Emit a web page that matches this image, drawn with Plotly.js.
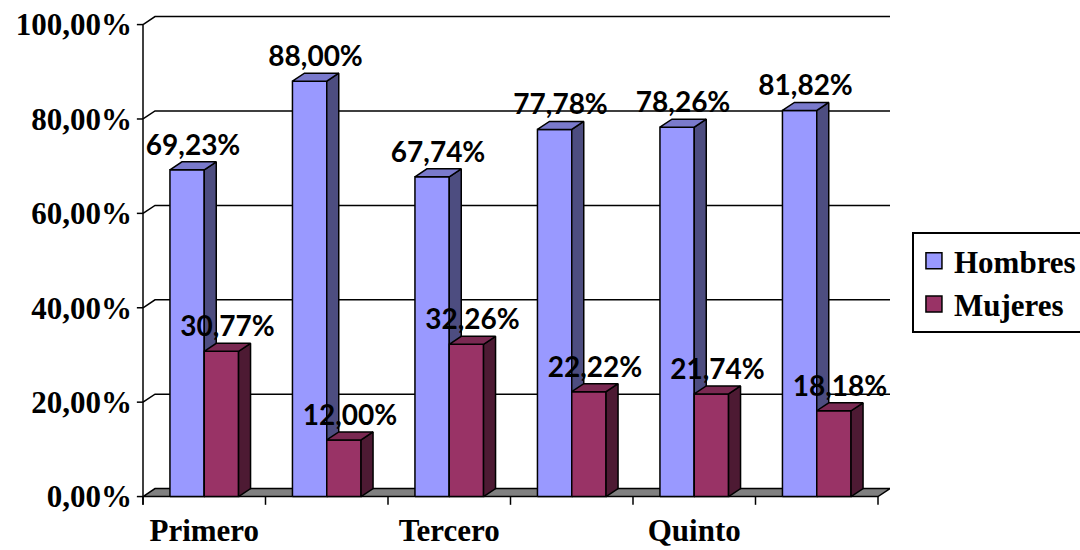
<!DOCTYPE html>
<html>
<head>
<meta charset="utf-8">
<script src="https://cdn.plot.ly/plotly-3.0.1.min.js"></script>
<style>html,body{margin:0;padding:0;background:#fff;}#chart{width:1080px;height:550px;}</style>
</head>
<body>
<div id="chart"></div>
<script>
// ---- data ----
const categories = ['Primero', 'Segundo', 'Tercero', 'Cuarto', 'Quinto', 'Sexto'];
const hombres = [69.23, 88.00, 67.74, 77.78, 78.26, 81.82];
const mujeres = [30.77, 12.00, 32.26, 22.22, 21.74, 18.18];
const seriesNames = ['Hombres', 'Mujeres'];
const yTicks = [0, 20, 40, 60, 80, 100];
const shownCategoryIdx = [0, 2, 4];

// ---- geometry / style (pseudo-3D) ----
const W = 0.28;      // bar width in category units
const DX = 0.098;    // depth offset x (category units)
const DY = 1.69;     // depth offset y (percent units)
const colors = {
  Hombres: {front: '#9999FF', top: '#7A7ACC', side: '#4D4D80'},
  Mujeres: {front: '#993366', top: '#7A2952', side: '#4D1A33'}
};
const fmt = v => v.toFixed(2).replace('.', ',') + '%';
const serif = 'Liberation Serif, Times New Roman, serif';
const sans = 'Lato, Calibri, sans-serif';

function barFaces(vals, off) {
  const f = {x: [], y: []}, s = {x: [], y: []}, t = {x: [], y: []};
  vals.forEach((h, i) => {
    const x0 = i + off, x1 = x0 + W;
    f.x.push(x0, x0, x1, x1, x0, null); f.y.push(0, h, h, 0, 0, null);
    s.x.push(x1, x1, x1 + DX, x1 + DX, x1, null); s.y.push(0, h, h + DY, DY, 0, null);
    t.x.push(x0, x0 + DX, x1 + DX, x1, x0, null); t.y.push(h, h + DY, h + DY, h, h, null);
  });
  return {f, s, t};
}
function poly(p, color) {
  return {type: 'scatter', mode: 'lines', x: p.x, y: p.y, fill: 'toself', fillcolor: color,
          line: {color: '#000', width: 1.5}, hoverinfo: 'skip', showlegend: false};
}

const n = categories.length;
const traces = [];

// floor
traces.push(poly({x: [-0.5, n - 0.5, n - 0.5 + DX, -0.5 + DX, -0.5],
                  y: [0, 0, DY, DY, 0]}, '#808080'));

// back-wall gridlines + connectors
const g = {x: [], y: []};
yTicks.filter(v => v > 0).forEach(v => {
  g.x.push(-0.5, -0.5 + DX, n - 0.5 + DX, null);
  g.y.push(v, v + DY, v + DY, null);
});
traces.push({type: 'scatter', mode: 'lines', x: g.x, y: g.y, line: {color: '#000', width: 1.5},
             hoverinfo: 'skip', showlegend: false});

// axis line and tick marks
const ax = {x: [-0.5, -0.5, null], y: [-1.75, 100, null]};
yTicks.forEach(v => { ax.x.push(-0.5 - 0.05, -0.5, null); ax.y.push(v, v, null); });
for (let k = 0; k <= n; k++) { ax.x.push(k - 0.5, k - 0.5, null); ax.y.push(0, -1.75, null); }
traces.push({type: 'scatter', mode: 'lines', x: ax.x, y: ax.y, line: {color: '#000', width: 1.5},
             hoverinfo: 'skip', showlegend: false});

// bars
const series = [[hombres, -W, 'Hombres'], [mujeres, 0, 'Mujeres']];
series.forEach(([vals, off, name]) => {
  const b = barFaces(vals, off);
  traces.push(poly(b.f, colors[name].front));
  traces.push(poly(b.s, colors[name].side));
  traces.push(poly(b.t, colors[name].top));
});

// data labels
series.forEach(([vals, off]) => {
  traces.push({type: 'scatter', mode: 'text',
    x: vals.map((v, i) => i + off + (W + DX) / 2),
    y: vals.map(v => v + DY),
    text: vals.map(fmt), textposition: 'top center', cliponaxis: false,
    textfont: {family: sans, size: 28, color: '#000', weight: 'bold'},
    hoverinfo: 'skip', showlegend: false});
});

// legend entries
seriesNames.forEach(name => {
  traces.push({type: 'scatter', mode: 'markers', x: [null], y: [null], name: name,
    marker: {symbol: 'square', size: 16, color: colors[name].front, line: {color: '#000', width: 1.5}}});
});

const layout = {
  width: 1080, height: 550,
  margin: {l: 133, r: 190, t: 15, b: 44},
  paper_bgcolor: '#fff', plot_bgcolor: '#fff',
  showlegend: true,
  legend: {xref: 'container', yref: 'container', x: 0.8444, xanchor: 'left', y: 0.578, yanchor: 'top',
           bordercolor: '#000', borderwidth: 2, bgcolor: '#fff',
           font: {family: serif, size: 31, color: '#000', weight: 'bold'}},
  xaxis: {range: [-0.5816, 5.598], showgrid: false, zeroline: false, showline: false, automargin: false,
          tickmode: 'array', tickvals: shownCategoryIdx, ticktext: shownCategoryIdx.map(i => categories[i]),
          ticks: '', ticklabelstandoff: 3,
          tickfont: {family: serif, size: 31, color: '#000', weight: 'bold'}, fixedrange: true},
  yaxis: {range: [-2, 102.03], showgrid: false, zeroline: false, showline: false, automargin: false,
          tickmode: 'array', tickvals: yTicks, ticktext: yTicks.map(fmt),
          ticks: '', tickfont: {family: serif, size: 31, color: '#000', weight: 'bold'}, fixedrange: true}
};

Plotly.newPlot('chart', traces, layout, {displayModeBar: false, staticPlot: true});
</script>
</body>
</html>
